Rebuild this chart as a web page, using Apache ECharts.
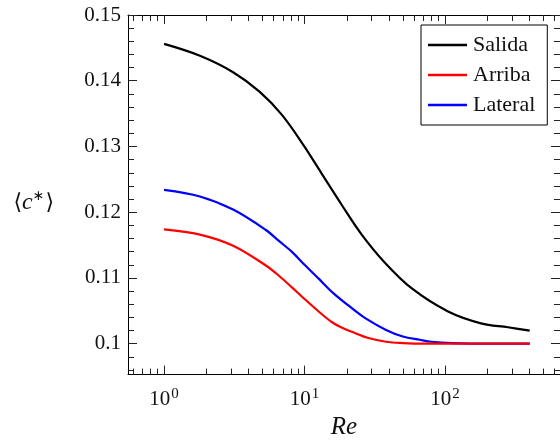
<!DOCTYPE html>
<html>
<head>
<meta charset="utf-8">
<script src="https://cdn.jsdelivr.net/npm/echarts@6/dist/echarts.min.js"></script>
<style>
  html, body { margin: 0; padding: 0; background: #fff; }
  #chart { width: 560px; height: 445px; }
</style>
</head>
<body>
<div id="chart"></div>
<script>
// Mean concentration <c*> versus Reynolds number for three outlet positions
const seriesNames = ['Salida', 'Arriba', 'Lateral'];
const seriesColors = ['#000000', '#ff0000', '#0000ff'];

const reSalida = [1, 1.8, 3.1, 4.8, 6.9, 9.9, 13.3, 18.4, 25.5, 37, 58, 105, 180, 280, 400];
const cSalida  = [0.1456, 0.1438, 0.1413, 0.1383, 0.1348, 0.1301, 0.1258, 0.1211, 0.1166, 0.1124, 0.1084, 0.1049, 0.1031, 0.1025, 0.1020];

const reArriba = [1, 1.8, 3.1, 5.3, 6.6, 8.2, 10, 12.6, 15.6, 19, 23, 28, 38, 50, 70, 150, 400];
const cArriba  = [0.1174, 0.1166, 0.1149, 0.1119, 0.1103, 0.1085, 0.1068, 0.1049, 0.1033, 0.1023, 0.1016, 0.1009, 0.1003, 0.1001, 0.1000, 0.1000, 0.1000];

const reLateral = [1, 1.8, 3.1, 5.3, 6.6, 8.2, 10, 12.6, 16, 22, 27, 38, 50, 66, 80, 113, 200, 400];
const cLateral  = [0.1234, 0.1224, 0.1204, 0.1173, 0.1156, 0.1139, 0.1120, 0.1099, 0.1077, 0.1053, 0.1039, 0.1021, 0.1011, 0.1006, 0.1003, 0.1001, 0.1000, 0.1000];

// Axis ticks
const xMajorTicks = [1, 10, 100];
const xMinorTicks = [0.6, 0.7, 0.8, 0.9, 2, 3, 4, 5, 6, 7, 8, 9, 20, 30, 40, 50, 60, 70, 80, 90, 200, 300, 400, 500, 600];
const yMajorTicks = [0.10, 0.11, 0.12, 0.13, 0.14, 0.15];
const yMinorTicks = [0.096, 0.098, 0.102, 0.104, 0.106, 0.108, 0.112, 0.114, 0.116, 0.118,
                     0.122, 0.124, 0.126, 0.128, 0.132, 0.134, 0.136, 0.138, 0.142, 0.144, 0.146, 0.148];

const X_MIN = 0.554, X_MAX = 657;
const Y_MIN = 0.0953, Y_MAX = 0.15;
const SERIF = '"Liberation Serif", "DejaVu Serif", serif';
const TICK_COLOR = '#222';

function pairs(xs, ys) { return xs.map((x, i) => [x, ys[i]]); }

function xAxisDef(position, ticks, len, showLine, showLabels) {
  return {
    type: 'log', logBase: 10, min: X_MIN, max: X_MAX, position: position,
    axisLine: { show: showLine, onZero: false, lineStyle: { color: '#000', width: 1 } },
    axisTick: { show: true, inside: true, length: len, customValues: ticks,
                lineStyle: { color: TICK_COLOR, width: 1 } },
    axisLabel: showLabels ? {
      show: true, customValues: ticks, margin: 12,
      fontFamily: SERIF, fontSize: 21, color: '#111',
      formatter: v => '{b|10}{s|' + Math.round(Math.log10(v)) + '}',
      rich: {
        b: { fontFamily: SERIF, fontSize: 21, color: '#111' },
        s: { fontFamily: SERIF, fontSize: 15, color: '#111', padding: [0, 0, 11, 1] }
      }
    } : { show: false },
    splitLine: { show: false }, minorTick: { show: false }
  };
}

function yAxisDef(position, ticks, len, showLine, showLabels) {
  return {
    type: 'value', min: Y_MIN, max: Y_MAX, position: position,
    axisLine: { show: showLine, onZero: false, lineStyle: { color: '#000', width: 1 } },
    axisTick: { show: true, inside: true, length: len, customValues: ticks,
                lineStyle: { color: TICK_COLOR, width: 1 } },
    axisLabel: showLabels ? {
      show: true, customValues: ticks, margin: 7,
      fontFamily: SERIF, fontSize: 21, color: '#111',
      formatter: v => String(+(+v).toFixed(3))
    } : { show: false },
    splitLine: { show: false }
  };
}

const xAxes = [
  xAxisDef('bottom', xMajorTicks, 9, true, true),
  xAxisDef('bottom', xMinorTicks, 6, false, false),
  xAxisDef('top', xMajorTicks, 9, true, false),
  xAxisDef('top', xMinorTicks, 6, false, false)
];
xAxes[0].name = 'Re';
xAxes[0].nameLocation = 'middle';
xAxes[0].nameGap = 38;
xAxes[0].nameTextStyle = { fontFamily: SERIF, fontStyle: 'italic', fontSize: 25, color: '#111' };

const yAxes = [
  yAxisDef('left', yMajorTicks, 9, true, true),
  yAxisDef('left', yMinorTicks, 6, false, false),
  yAxisDef('right', yMajorTicks, 9, true, false),
  yAxisDef('right', yMinorTicks, 6, false, false)
];
yAxes[0].name = '{a|⟨}{c|c}{s|∗}{a|⟩}';
yAxes[0].nameLocation = 'middle';
yAxes[0].nameRotate = 0;
yAxes[0].nameGap = 74;
yAxes[0].nameTextStyle = {
  padding: [16, 0, 0, 0],
  rich: {
    a: { fontFamily: '"DejaVu Serif", serif', fontSize: 22, color: '#111' },
    c: { fontFamily: SERIF, fontStyle: 'italic', fontSize: 24, color: '#111' },
    s: { fontFamily: '"DejaVu Sans", sans-serif', fontSize: 14, color: '#111', padding: [0, 1, 12, 0] }
  }
};

const seriesData = [pairs(reSalida, cSalida), pairs(reArriba, cArriba), pairs(reLateral, cLateral)];

const option = {
  backgroundColor: '#fff',
  animation: false,
  grid: { left: 128, top: 15, width: 435, height: 366, containLabel: false },
  legend: {
    left: 421, top: 25,
    orient: 'vertical',
    data: seriesNames.map(n => ({ name: n, icon: 'rect' })),
    itemWidth: 39, itemHeight: 2.5, itemGap: 8,
    padding: [9, 12, 9, 7],
    backgroundColor: '#fff',
    borderColor: '#000', borderWidth: 1, borderRadius: 0,
    textStyle: { fontFamily: SERIF, fontSize: 22, color: '#111', lineHeight: 20, padding: [0, 0, 0, 1] }
  },
  xAxis: xAxes,
  yAxis: yAxes,
  series: seriesNames.map((name, i) => ({
    name: name,
    type: 'line',
    xAxisIndex: 0, yAxisIndex: 0,
    data: seriesData[i],
    showSymbol: false, symbol: 'none',
    smooth: 0.35,
    color: seriesColors[i],
    lineStyle: { color: seriesColors[i], width: 2.2 },
    z: 3 - i
  }))
};

const chart = echarts.init(document.getElementById('chart'), null, { renderer: 'canvas' });
chart.setOption(option);
</script>
</body>
</html>
